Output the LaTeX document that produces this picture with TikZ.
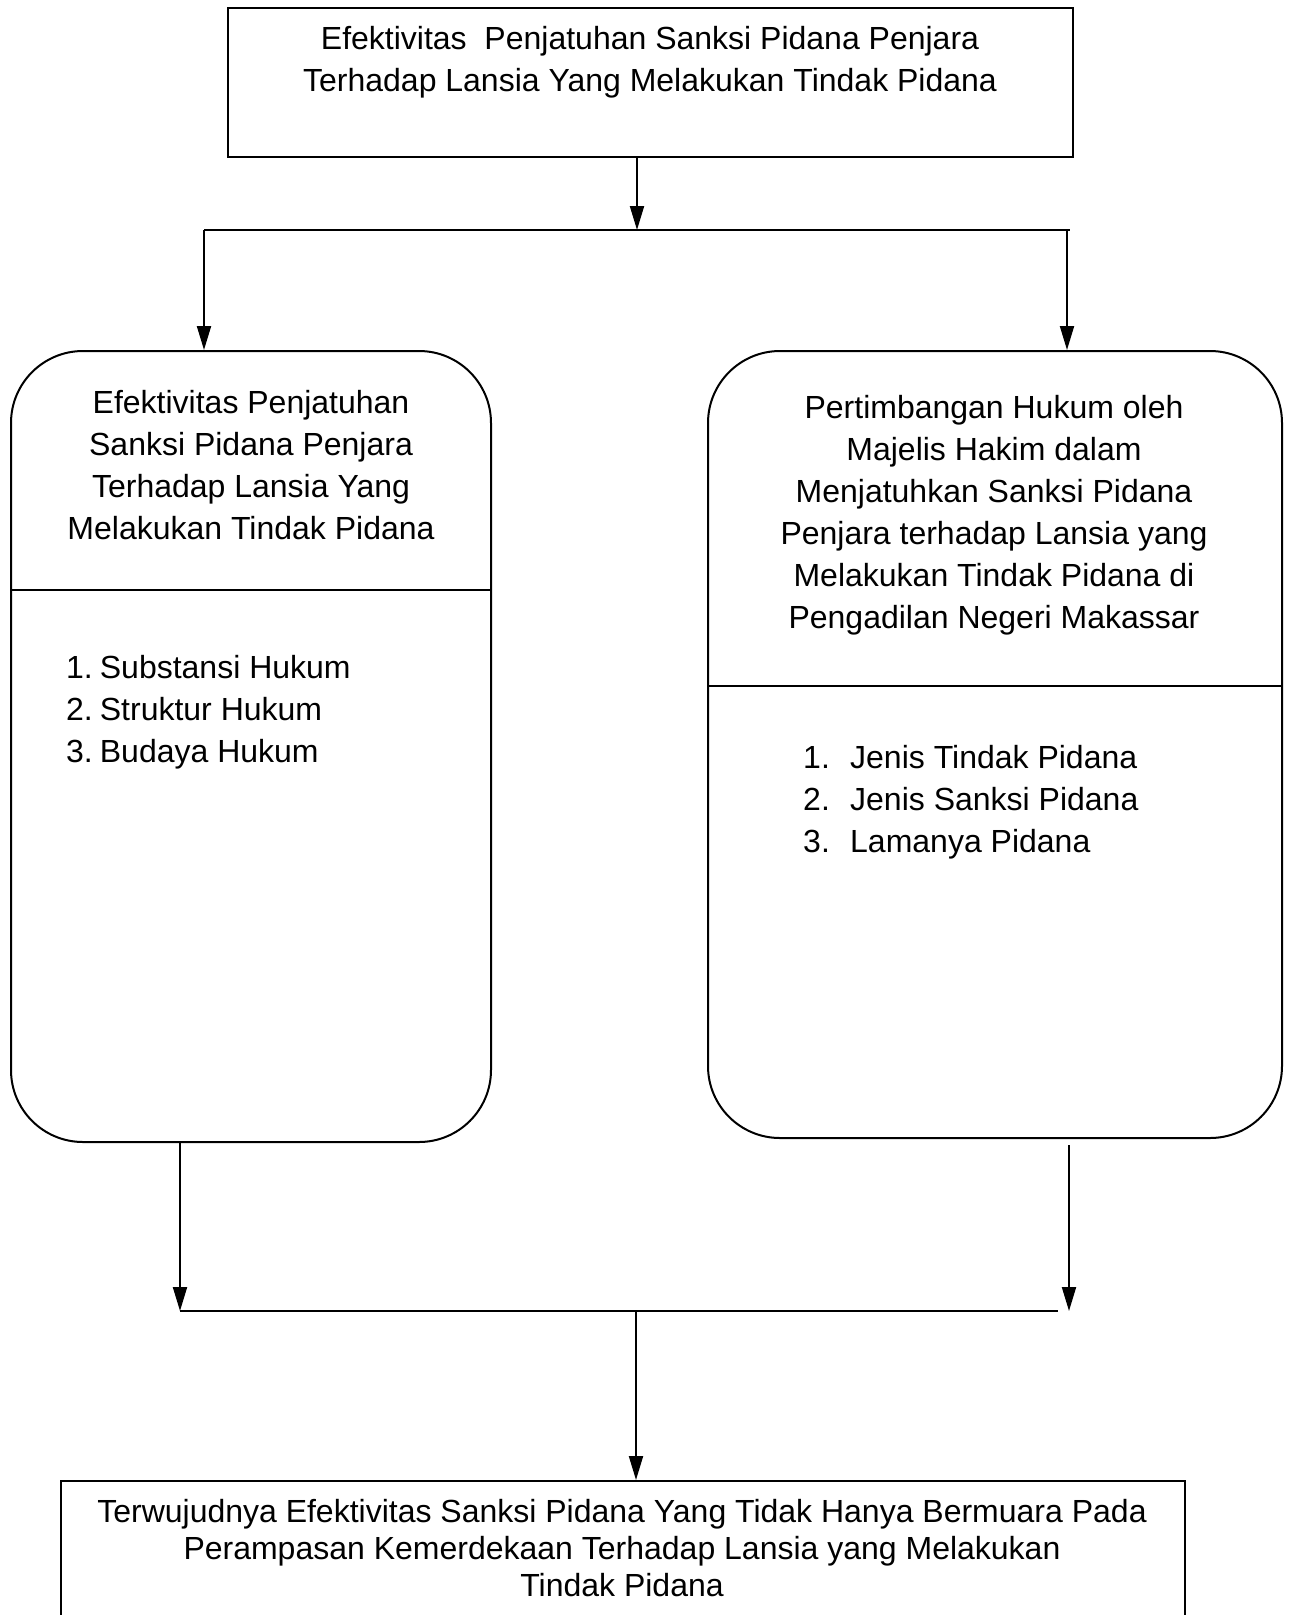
\documentclass[tikz,border=0pt]{standalone}
\usepackage{fontspec}
\setmainfont{Liberation Sans}
\usetikzlibrary{arrows.meta,positioning}
\begin{document}
\begin{tikzpicture}[x=1pt,y=-1pt,
  kotak/.style={draw, line width=2pt, inner sep=0pt},
  garis/.style={line width=2pt},
  panah/.style={-{Triangle[length=24pt,width=14pt]}, line width=2pt},
  teks/.style={font=\fontsize{32}{42}\selectfont, align=center, inner sep=0pt}]
  \useasboundingbox (0,0) rectangle (1291,1615);
  \clip (0,0) rectangle (1291,1615);

  % Kotak judul
  \node[kotak, minimum width=845pt, minimum height=149pt] (atas) at (650.5,82.5) {};
  \node[teks] (judul) at (650,62) {Efektivitas \ Penjatuhan Sanksi Pidana Penjara\\Terhadap Lansia Yang Melakukan Tindak Pidana};

  % Kotak kiri dan kanan
  \node[kotak, rounded corners=72pt, minimum width=480pt, minimum height=791pt] (kiri) at (251,746.5) {};
  \node[kotak, rounded corners=72pt, minimum width=574pt, minimum height=787pt] (kanan) at (995,744.5) {};

  \node[teks] (judulkiri) at (251,465.5) {Efektivitas Penjatuhan\\Sanksi Pidana Penjara\\Terhadap Lansia Yang\\Melakukan Tindak Pidana};
  \node[teks] (judulkanan) at (994,515.5) {Pertimbangan Hukum oleh\\Majelis Hakim dalam\\Menjatuhkan Sanksi Pidana\\Penjara terhadap Lansia yang\\Melakukan Tindak Pidana di\\Pengadilan Negeri Makassar};

  \coordinate (sekatkiri) at (0,590);
  \coordinate (sekatkanan) at (0,686);
  \draw[garis] (kiri.west |- sekatkiri) -- (kiri.east |- sekatkiri);
  \draw[garis] (kanan.west |- sekatkanan) -- (kanan.east |- sekatkanan);

  \node[teks, align=left, anchor=west] (daftarkiri) at (66,712) {1.\hspace{7pt}Substansi Hukum\\2.\hspace{7pt}Struktur Hukum\\3.\hspace{7pt}Budaya Hukum};
  \node[teks, align=left, anchor=west] (daftarkanan) at (803,802) {\makebox[47pt][l]{1.}Jenis Tindak Pidana\\\makebox[47pt][l]{2.}Jenis Sanksi Pidana\\\makebox[47pt][l]{3.}Lamanya Pidana};

  % Kotak hasil
  \node[kotak, minimum width=1124pt, minimum height=180pt] (bawah) at (623,1571) {};
  \node[teks, font=\fontsize{32}{37}\selectfont] (hasil) at (622,1548) {Terwujudnya Efektivitas Sanksi Pidana Yang Tidak Hanya Bermuara Pada\\Perampasan Kemerdekaan Terhadap Lansia yang Melakukan\\Tindak Pidana};

  % Cabang atas
  \coordinate (pisah) at (637,230);
  \coordinate (cabangkiri) at (204,230);
  \coordinate (cabangkanan) at (1070,230);
  \coordinate (turunkanan) at (1067,230);
  \draw[panah] (atas.south -| pisah) -- (pisah);
  \draw[garis] (cabangkiri) -- (cabangkanan);
  \draw[panah] (cabangkiri) -- (kiri.north -| cabangkiri);
  \draw[panah] (turunkanan) -- (kanan.north -| turunkanan);

  % Cabang bawah
  \coordinate (gabungkiri) at (180,1311);
  \coordinate (gabungkanan) at (1058,1311);
  \coordinate (masukkanan) at (1069,1311);
  \coordinate (gabung) at (636,1311);
  \draw[panah] (kiri.south -| gabungkiri) -- (gabungkiri);
  \draw[panah] ([yshift=-6pt]kanan.south -| masukkanan) -- (masukkanan);
  \draw[garis] (gabungkiri) -- (gabungkanan);
  \draw[panah] (gabung) -- (bawah.north -| gabung);
\end{tikzpicture}
\end{document}
